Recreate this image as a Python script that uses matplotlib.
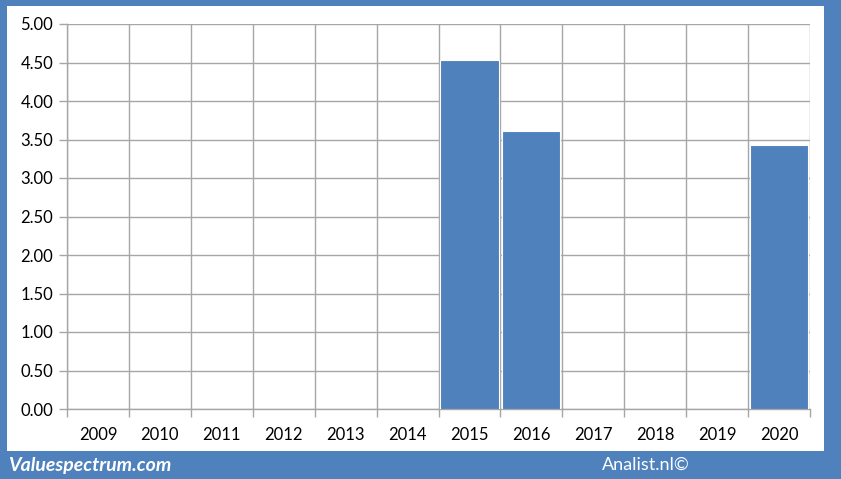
import matplotlib
matplotlib.use("Agg")
import matplotlib.pyplot as plt
from matplotlib.patches import Rectangle
import numpy as np

years = ['2009', '2010', '2011', '2012', '2013', '2014',
         '2015', '2016', '2017', '2018', '2019', '2020']
values = [0, 0, 0, 0, 0, 0, 4.53, 3.61, 0, 0, 0, 3.43]
yticks = [0.0, 0.5, 1.0, 1.5, 2.0, 2.5, 3.0, 3.5, 4.0, 4.5, 5.0]

blue = '#4f81bd'
grid = '#a6a6a6'
W, H = 841, 479

plt.rcParams['font.family'] = ['Lato', 'DejaVu Sans']

fig = plt.figure(figsize=(W / 100, H / 100), dpi=100, facecolor=blue)
# white inner panel
fig.patches.append(Rectangle((7 / W, 1 - 451 / H), (824 - 7) / W, (451 - 6) / H,
                             transform=fig.transFigure, facecolor='white',
                             edgecolor='none', zorder=-10))

ax = fig.add_axes([67 / W, 1 - 409 / H, (810 - 67) / W, (409 - 24) / H])
ax.set_facecolor('none')
ax.set_zorder(5)

x = np.arange(len(years))
ax.bar(x, values, width=0.94, color=blue, edgecolor='white', linewidth=0.8, zorder=3)

ax.set_xlim(-0.5, len(years) - 0.5)
ax.set_ylim(0, 5)
ax.set_yticks(yticks)
ax.set_yticklabels(['{:.2f}'.format(v) for v in yticks], fontsize=12)
ax.set_xticks(x)
ax.set_xticklabels(years, fontsize=12)
ax.set_xticks(np.arange(-0.5, len(years)), minor=True)

ax.tick_params(axis='x', which='major', length=0, pad=13)
ax.tick_params(axis='x', which='minor', length=6, color=grid, width=1)
ax.tick_params(axis='y', length=6, color=grid, width=1, pad=4)

ax.grid(axis='y', which='major', color=grid, linewidth=1, zorder=0)
ax.grid(axis='x', which='minor', color=grid, linewidth=1, zorder=0)
ax.set_axisbelow(True)

for s in ['top', 'right']:
    ax.spines[s].set_visible(False)
for s in ['left', 'bottom']:
    ax.spines[s].set_color(grid)
    ax.spines[s].set_linewidth(1)

fig.text(8 / W, 1 - 465 / H, 'Valuespectrum.com', color='white', fontsize=14,
         fontweight='bold', fontstyle='italic', va='center', ha='left')
fig.text(646 / W, 1 - 465 / H, 'Analist.nl©', color='white', fontsize=13,
         va='center', ha='center')

fig.savefig('out.png', dpi=100, facecolor=blue)
